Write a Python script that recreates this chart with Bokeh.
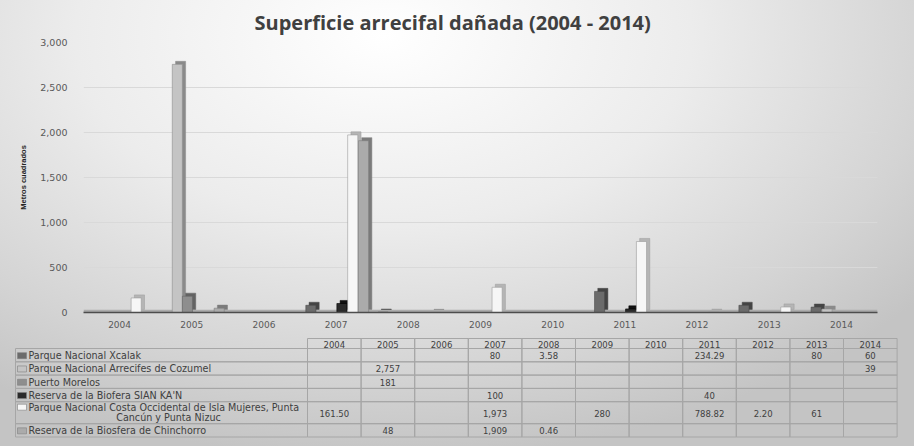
from bokeh.plotting import figure
from bokeh.layouts import column
from bokeh.models import (ColumnDataSource, FactorRange, Range1d, BoxAnnotation,
                          NumeralTickFormatter, SingleIntervalTicker)
from bokeh.transform import dodge
from bokeh.embed import file_html
from bokeh.resources import INLINE
from bokeh.core.properties import value

# ---------------- data ----------------
years = ["2004", "2005", "2006", "2007", "2008", "2009", "2010", "2011", "2012", "2013", "2014"]
series_names = [
    "Parque Nacional Xcalak",
    "Parque Nacional Arrecifes de Cozumel",
    "Puerto Morelos",
    "Reserva de la Biofera SIAN KA'N",
    "Parque Nacional Costa Occidental de Isla Mujeres, Punta\nCancún y Punta Nizuc",
    "Reserva de la Biosfera de Chinchorro",
]
xcalak     = [None, None, None, 80, 3.58, None, None, 234.29, None, 80, 60]
cozumel    = [None, 2757, None, None, None, None, None, None, None, None, 39]
puerto     = [None, 181, None, None, None, None, None, None, None, None, None]
sian       = [None, None, None, 100, None, None, None, 40, None, None, None]
isla       = [161.50, None, None, 1973, None, 280, None, 788.82, 2.20, 61, None]
chinchorro = [None, 48, None, 1909, 0.46, None, None, None, None, None, None]
series_values = [xcalak, cozumel, puerto, sian, isla, chinchorro]

title_text = "Superficie arrecifal dañada (2004 - 2014)"
y_label = "Metros cuadrados"

# ---------------- styles ----------------
front_colors = ["#6b6b6b", "#c4c4c4", "#8e8e8e", "#2a2a2a", "#f6f6f6", "#ababab"]
side_colors  = ["#444444", "#8a8a8a", "#636363", "#111111", "#b5b5b5", "#7b7b7b"]
edge_colors  = ["#4a4a4a", "#8f8f8f", "#666666", "#000000", "#9a9a9a", "#7f7f7f"]
offsets = [-0.35, -0.2, -0.06, 0.08, 0.23, 0.38]
BAR_W = 0.14
DEPTH = 34
TXT = "#404040"
W = 914
CH = 335
TH = 446 - CH

def nan(v):
    return float("nan") if v is None else float(v)

# ---------------- chart ----------------
p = figure(width=W, height=CH, x_range=FactorRange(*years, range_padding=0),
           y_range=Range1d(0, 3000), output_backend="svg", toolbar_location=None,
           min_border_left=83, min_border_right=37, min_border_top=42, min_border_bottom=23,
           title=title_text)
p.frame_align = False
p.background_fill_alpha = 0
p.border_fill_alpha = 0
p.outline_line_color = None

p.title.align = "left"
p.title.offset = 171
p.title.text_font = "Open Sans"
p.title.text_font_style = "bold"
p.title.text_font_size = "20px"
p.title.text_color = TXT
p.title.standoff = 13

p.add_layout(BoxAnnotation(bottom=0, top=30, fill_color="#acacac", fill_alpha=1,
                           line_color=None, level="underlay"))

for vals, off, fc, sc, ec in zip(series_values, offsets, front_colors, side_colors, edge_colors):
    tops = [nan(v) for v in vals]
    src = ColumnDataSource(dict(x=years, top=tops, top_b=[t + DEPTH for t in tops]))
    p.vbar(x=dodge("x", off + 0.045, range=p.x_range), top="top_b", bottom=DEPTH, width=BAR_W,
           source=src, fill_color=sc, line_color=ec, line_width=0.5)
    p.vbar(x=dodge("x", off, range=p.x_range), top="top", bottom=0, width=BAR_W,
           source=src, fill_color=fc, line_color=ec, line_width=0.6)

p.xgrid.grid_line_color = None
p.ygrid.grid_line_color = "#d9d9d9"
p.ygrid.grid_line_width = 1
p.yaxis.ticker = SingleIntervalTicker(interval=500)
p.yaxis.formatter = NumeralTickFormatter(format="0,0")
p.yaxis.axis_line_color = None
p.yaxis.major_tick_line_color = None
p.yaxis.minor_tick_line_color = None
p.yaxis.major_label_standoff = 10
p.yaxis.major_label_text_font = "DejaVu Sans"
p.yaxis.major_label_text_font_size = "9.5px"
p.yaxis.major_label_text_color = "#595959"
p.yaxis.axis_label = y_label
p.yaxis.axis_label_text_font = "Liberation Sans"
p.yaxis.axis_label_text_font_style = "bold"
p.yaxis.axis_label_text_font_size = "7.5px"
p.yaxis.axis_label_text_color = "#222222"
p.yaxis.axis_label_standoff = 9

p.xaxis.axis_line_color = "#4d4d4d"
p.xaxis.axis_line_width = 1.5
p.xaxis.major_tick_line_color = None
p.xaxis.minor_tick_line_color = None
p.xaxis.major_label_standoff = 2
p.xaxis.major_label_text_font = "DejaVu Sans"
p.xaxis.major_label_text_font_size = "9px"
p.xaxis.major_label_text_color = "#595959"

# ---------------- data table ----------------
COLW = 53.6
X0 = 307.0   # px position of first year column
LABEL_LEFT = -(X0 - 15) / COLW
t = figure(width=W, height=TH, x_range=Range1d(-X0 / COLW, (W - X0) / COLW),
           y_range=Range1d(TH, 0), output_backend="svg", toolbar_location=None,
           x_axis_type=None, y_axis_type=None, min_border=0)
t.frame_align = False
t.background_fill_alpha = 0
t.border_fill_alpha = 0
t.outline_line_color = None
t.xgrid.visible = False
t.ygrid.visible = False

top0 = 3.0
header_h = 10.0
row_h = [22.0 if "\n" in s else 13.3 for s in series_names]

L, R, T, B = [], [], [], []
vx, vy, vt = [], [], []
nx, ny, nt, na = [], [], [], []
for i, yr in enumerate(years):
    L.append(i); R.append(i + 1); T.append(top0); B.append(top0 + header_h)
    vx.append(i + 0.5); vy.append(top0 + header_h / 2 + 0.5); vt.append(yr)
key_x, key_y, key_c = [], [], []
y = top0 + header_h
for name, vals, h, fc in zip(series_names, series_values, row_h, front_colors):
    L.append(LABEL_LEFT); R.append(0); T.append(y); B.append(y + h)
    for i, v in enumerate(vals):
        L.append(i); R.append(i + 1); T.append(y); B.append(y + h)
        if v is not None:
            s = f"{v:,.0f}" if float(v).is_integer() else f"{v:,.2f}"
            vx.append(i + 0.5); vy.append(y + h / 2 + 0.5); vt.append(s)
    lines = name.split("\n")
    first_y = y + (5.5 if len(lines) > 1 else h / 2 + 0.5)
    key_x.append(LABEL_LEFT + 6.5 / COLW); key_y.append(first_y); key_c.append(fc)
    nx.append(LABEL_LEFT + 13 / COLW); ny.append(first_y); nt.append(lines[0]); na.append("left")
    for k, ln in enumerate(lines[1:]):
        nx.append(LABEL_LEFT / 2 + 7 / COLW); ny.append(first_y + 10.5 * (k + 1)); nt.append(ln); na.append("center")
    y += h

t.quad(left=L, right=R, top=T, bottom=B, fill_alpha=0, line_color="#a6a6a6", line_width=1)
t.rect(x=key_x, y=key_y, width=9, height=6, width_units="screen", height_units="screen",
       fill_color=key_c, line_color="#7f7f7f", line_width=0.6)
t.text(x=vx, y=vy, text=vt, text_align="center", text_baseline="middle",
       text_font=value("DejaVu Sans"), text_font_size="8.5px", text_color=TXT)
nsrc = ColumnDataSource(dict(x=nx, y=ny, text=nt, align=na))
t.text(x="x", y="y", text="text", text_align="align", source=nsrc, text_baseline="middle",
       text_font=value("DejaVu Sans"), text_font_size="9.6px", text_color=TXT)

layout = column(p, t, spacing=0, styles={
    "background": "radial-gradient(ellipse 75% 95% at 42% 8%, #ffffff 0%, #ececec 45%, #d4d4d4 80%, #c4c4c4 100%)"
})

open("out.html", "w").write(file_html(layout, INLINE))
